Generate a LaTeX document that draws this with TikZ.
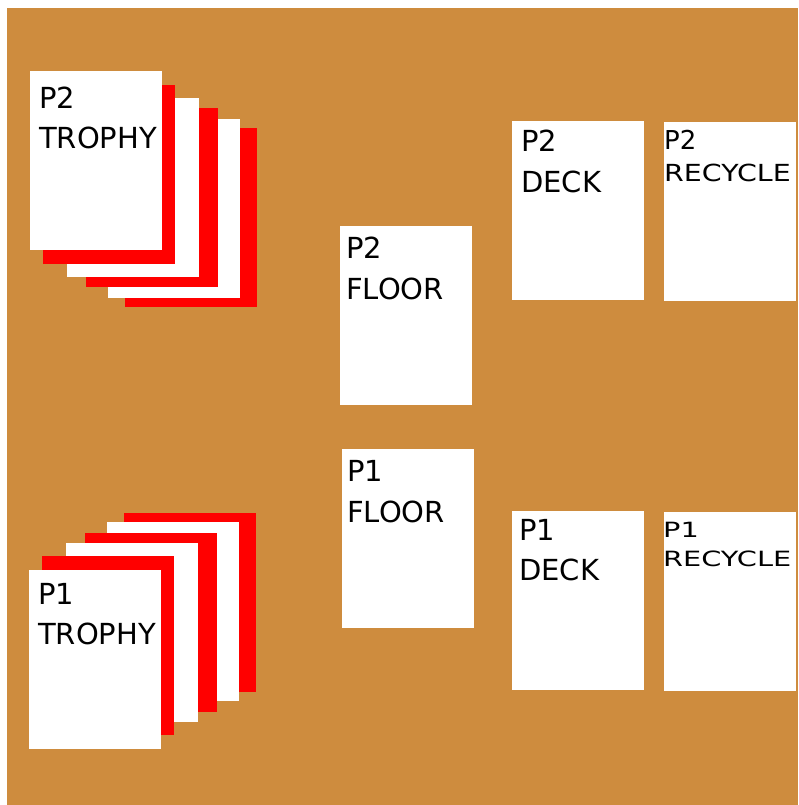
\documentclass[tikz,border=0pt]{standalone}
\usepackage{fontspec}
\setmainfont{DejaVu Sans}
\usepackage{graphicx}
\usetikzlibrary{positioning}
\definecolor{tabletop}{RGB}{206,140,62}
\definecolor{cardred}{RGB}{255,0,0}

\begin{document}
\begin{tikzpicture}[x=1pt, y=-1pt,
  card/.style={rectangle, fill=white, draw=none, inner sep=0pt, anchor=north west,
               minimum width=132pt, minimum height=179pt},
  lbl/.style={inner sep=0pt, anchor=north west, align=left, text=black,
              font=\fontsize{29}{40}\selectfont}
]
  \useasboundingbox (0,0) rectangle (798,805);
  \fill[tabletop] (7,8) rectangle (798,805);
  % trophy piles, back to front
  \foreach \dx/\dy/\col [count=\i] in {95/57/cardred, 78/48/white, 56/37/cardred, 37/27/white, 13/14/cardred} {
    \node[card, fill=\col] (T2s\i) at (30+\dx, 71+\dy) {};
    \node[card, fill=\col] (T1s\i) at (29+\dx, 570-\dy) {};
  }
  \node[card] (T2) at (30, 71) {};
  \node[card] (T1) at (29, 570) {};
  % floor, deck and recycle cards
  \node[card] (F2) at (340, 226) {};
  \node[card] (F1) at (342, 449) {};
  \node[card] (D2) at (512, 121) {};
  \node[card] (D1) at (512, 511) {};
  \node[card] (R2) at (664, 122) {};
  \node[card] (R1) at (664, 512) {};
  % labels
  \node[lbl] (T2l) at ([shift={(9,16)}]T2.north west) {P2\\TROPHY};
  \node[lbl] (T1l) at ([shift={(9,13)}]T1.north west) {P1\\TROPHY};
  \node[lbl, font=\fontsize{29}{41}\selectfont] (F2l) at ([shift={(6,11)}]F2.north west) {P2\\FLOOR};
  \node[lbl, font=\fontsize{29}{41}\selectfont] (F1l) at ([shift={(5,11)}]F1.north west) {P1\\FLOOR};
  \node[lbl, font=\fontsize{29}{41}\selectfont] (D2l) at ([shift={(9,9)}]D2.north west) {P2\\DECK};
  \node[lbl] (D1l) at ([shift={(7,8)}]D1.north west) {P1\\DECK};
  \node[lbl, font=\fontsize{23.5}{32}\selectfont] (R2l) at ([shift={(0,8)}]R2.north west)
    {{\fontsize{26}{32}\selectfont P2}\\\scalebox{1.21}[1]{RECYCLE}};
  \node[lbl, font=\fontsize{21}{29}\selectfont] (R1l) at ([shift={(-1,10)}]R1.north west)
    {\scalebox{1.37}[1]{P1}\\\scalebox{1.37}[1]{RECYCLE}};
\end{tikzpicture}
\end{document}
